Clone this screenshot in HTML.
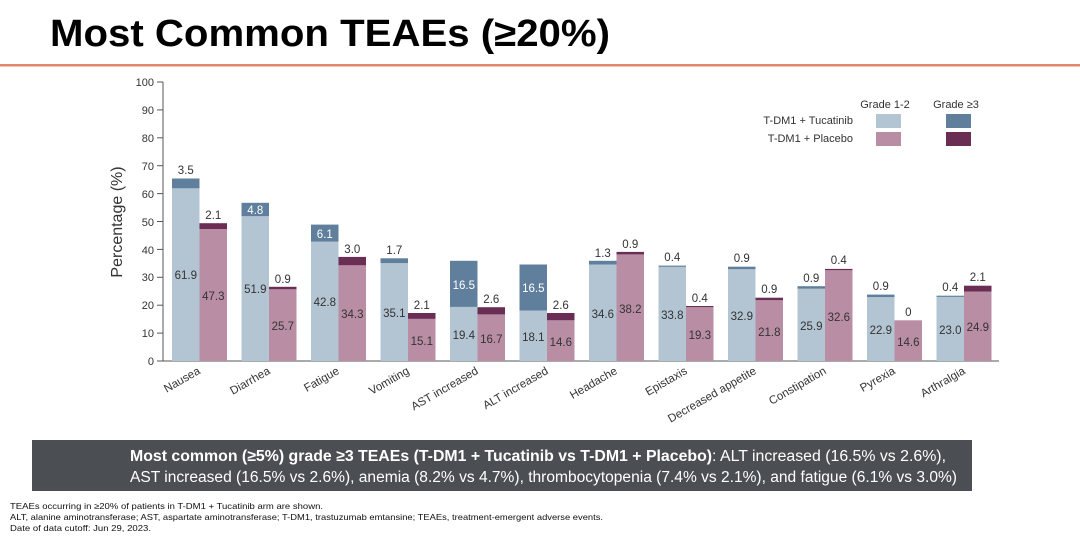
<!DOCTYPE html>
<html><head><meta charset="utf-8"><style>
body{margin:0;width:1080px;height:536px;background:#fff;overflow:hidden;font-family:"Liberation Sans",sans-serif;}
</style></head><body>
<svg width="1080" height="536" xmlns="http://www.w3.org/2000/svg" font-family="Liberation Sans, sans-serif">
<text x="50" y="46" font-size="38" font-weight="bold" fill="#000" textLength="560" lengthAdjust="spacingAndGlyphs">Most Common TEAEs (≥20%)</text>
<rect x="0" y="64" width="1080" height="2.5" fill="#e3876a"/>
<g stroke="#555" stroke-width="1">
<line x1="163" y1="82" x2="163" y2="361"/>
<line x1="163" y1="361" x2="999" y2="361"/>
<line x1="157" y1="82.0" x2="163" y2="82.0"/><line x1="157" y1="109.9" x2="163" y2="109.9"/><line x1="157" y1="137.8" x2="163" y2="137.8"/><line x1="157" y1="165.7" x2="163" y2="165.7"/><line x1="157" y1="193.6" x2="163" y2="193.6"/><line x1="157" y1="221.5" x2="163" y2="221.5"/><line x1="157" y1="249.4" x2="163" y2="249.4"/><line x1="157" y1="277.3" x2="163" y2="277.3"/><line x1="157" y1="305.2" x2="163" y2="305.2"/><line x1="157" y1="333.1" x2="163" y2="333.1"/><line x1="157" y1="361" x2="163" y2="361"/>
</g>
<g font-size="11" fill="#333" text-anchor="end">
<text x="154" y="86">100</text><text x="154" y="114">90</text><text x="154" y="142">80</text><text x="154" y="170">70</text><text x="154" y="198">60</text><text x="154" y="226">50</text><text x="154" y="254">40</text><text x="154" y="281">30</text><text x="154" y="309">20</text><text x="154" y="337">10</text><text x="154" y="365">0</text>
</g>
<text transform="translate(122,222) rotate(-90)" font-size="16" fill="#333" text-anchor="middle">Percentage (%)</text>
<g>
<rect x="172" y="188.3" width="27.5" height="172.7" fill="#b3c4d3"/><rect x="172" y="178.5" width="27.5" height="9.8" fill="#5f7f9c"/>
<rect x="199.5" y="229" width="27.5" height="132" fill="#b98ea5"/><rect x="199.5" y="223.2" width="27.5" height="5.8" fill="#6a2e55"/>
<rect x="241.5" y="216.2" width="27.5" height="144.8" fill="#b3c4d3"/><rect x="241.5" y="202.8" width="27.5" height="13.4" fill="#5f7f9c"/>
<rect x="269" y="289.3" width="27.5" height="71.7" fill="#b98ea5"/><rect x="269" y="286.8" width="27.5" height="2.5" fill="#6a2e55"/>
<rect x="311" y="241.6" width="27.5" height="119.4" fill="#b3c4d3"/><rect x="311" y="224.6" width="27.5" height="17" fill="#5f7f9c"/>
<rect x="338.5" y="265.3" width="27.5" height="95.7" fill="#b98ea5"/><rect x="338.5" y="256.9" width="27.5" height="8.4" fill="#6a2e55"/>
<rect x="380.5" y="263.1" width="27.5" height="97.9" fill="#b3c4d3"/><rect x="380.5" y="258.3" width="27.5" height="4.8" fill="#5f7f9c"/>
<rect x="408" y="318.9" width="27.5" height="42.1" fill="#b98ea5"/><rect x="408" y="313" width="27.5" height="5.9" fill="#6a2e55"/>
<rect x="450" y="306.9" width="27.5" height="54.1" fill="#b3c4d3"/><rect x="450" y="260.8" width="27.5" height="46.1" fill="#5f7f9c"/>
<rect x="477.5" y="314.4" width="27.5" height="46.6" fill="#b98ea5"/><rect x="477.5" y="307.2" width="27.5" height="7.2" fill="#6a2e55"/>
<rect x="519.5" y="310.5" width="27.5" height="50.5" fill="#b3c4d3"/><rect x="519.5" y="264.5" width="27.5" height="46" fill="#5f7f9c"/>
<rect x="547" y="320.3" width="27.5" height="40.7" fill="#b98ea5"/><rect x="547" y="313" width="27.5" height="7.3" fill="#6a2e55"/>
<rect x="589" y="264.5" width="27.5" height="96.5" fill="#b3c4d3"/><rect x="589" y="260.8" width="27.5" height="3.7" fill="#5f7f9c"/>
<rect x="616.5" y="254.4" width="27.5" height="106.6" fill="#b98ea5"/><rect x="616.5" y="251.9" width="27.5" height="2.5" fill="#6a2e55"/>
<rect x="658.5" y="266.7" width="27.5" height="94.3" fill="#b3c4d3"/><rect x="658.5" y="265.6" width="27.5" height="1.2" fill="#5f7f9c"/>
<rect x="686" y="307.2" width="27.5" height="53.8" fill="#b98ea5"/><rect x="686" y="306" width="27.5" height="1.2" fill="#6a2e55"/>
<rect x="728" y="269.2" width="27.5" height="91.8" fill="#b3c4d3"/><rect x="728" y="266.7" width="27.5" height="2.5" fill="#5f7f9c"/>
<rect x="755.5" y="300.2" width="27.5" height="60.8" fill="#b98ea5"/><rect x="755.5" y="297.7" width="27.5" height="2.5" fill="#6a2e55"/>
<rect x="797.5" y="288.7" width="27.5" height="72.3" fill="#b3c4d3"/><rect x="797.5" y="286.2" width="27.5" height="2.5" fill="#5f7f9c"/>
<rect x="825" y="270" width="27.5" height="91" fill="#b98ea5"/><rect x="825" y="268.9" width="27.5" height="1.2" fill="#6a2e55"/>
<rect x="867" y="297.1" width="27.5" height="63.9" fill="#b3c4d3"/><rect x="867" y="294.6" width="27.5" height="2.5" fill="#5f7f9c"/>
<rect x="894.5" y="320.3" width="27.5" height="40.7" fill="#b98ea5"/>
<rect x="936.5" y="296.8" width="27.5" height="64.2" fill="#b3c4d3"/><rect x="936.5" y="295.7" width="27.5" height="1.2" fill="#5f7f9c"/>
<rect x="964" y="291.5" width="27.5" height="69.5" fill="#b98ea5"/><rect x="964" y="285.7" width="27.5" height="5.8" fill="#6a2e55"/>
</g>
<g font-size="11.5" fill="#333" text-anchor="middle">
<text x="185.8" y="174">3.5</text><text x="185.8" y="279">61.9</text><text x="213.3" y="219">2.1</text><text x="213.3" y="300">47.3</text>
<text x="255.3" y="293">51.9</text><text x="282.8" y="283">0.9</text><text x="282.8" y="330">25.7</text>
<text x="324.8" y="306">42.8</text><text x="352.3" y="253">3.0</text><text x="352.3" y="318">34.3</text>
<text x="394.3" y="254">1.7</text><text x="394.3" y="317">35.1</text><text x="421.8" y="309">2.1</text><text x="421.8" y="345">15.1</text>
<text x="463.8" y="339">19.4</text><text x="491.3" y="303">2.6</text><text x="491.3" y="343">16.7</text>
<text x="533.3" y="341">18.1</text><text x="560.8" y="309">2.6</text><text x="560.8" y="346">14.6</text>
<text x="602.8" y="257">1.3</text><text x="602.8" y="318">34.6</text><text x="630.3" y="248">0.9</text><text x="630.3" y="313">38.2</text>
<text x="672.3" y="261">0.4</text><text x="672.3" y="319">33.8</text><text x="699.8" y="302">0.4</text><text x="699.8" y="339">19.3</text>
<text x="741.8" y="262">0.9</text><text x="741.8" y="320">32.9</text><text x="769.3" y="293">0.9</text><text x="769.3" y="336">21.8</text>
<text x="811.3" y="282">0.9</text><text x="811.3" y="330">25.9</text><text x="838.8" y="264">0.4</text><text x="838.8" y="321">32.6</text>
<text x="880.8" y="290">0.9</text><text x="880.8" y="334">22.9</text><text x="908.3" y="316">0</text><text x="908.3" y="346">14.6</text>
<text x="950.3" y="291">0.4</text><text x="950.3" y="334">23.0</text><text x="977.8" y="281">2.1</text><text x="977.8" y="331">24.9</text>
</g>
<g font-size="11.5" fill="#fff" text-anchor="middle">
<text x="255.3" y="214">4.8</text><text x="324.8" y="238">6.1</text><text x="463.8" y="289">16.5</text><text x="533.3" y="292">16.5</text>
</g>
<g font-size="11.5" fill="#333" text-anchor="end">
<text transform="translate(201,373) rotate(-30)">Nausea</text>
<text transform="translate(271,373) rotate(-30)">Diarrhea</text>
<text transform="translate(340,373) rotate(-30)">Fatigue</text>
<text transform="translate(410,373) rotate(-30)">Vomiting</text>
<text transform="translate(479,373) rotate(-30)">AST increased</text>
<text transform="translate(549,373) rotate(-30)">ALT increased</text>
<text transform="translate(618,373) rotate(-30)">Headache</text>
<text transform="translate(688,373) rotate(-30)">Epistaxis</text>
<text transform="translate(757,373) rotate(-30)">Decreased appetite</text>
<text transform="translate(827,373) rotate(-30)">Constipation</text>
<text transform="translate(896,373) rotate(-30)">Pyrexia</text>
<text transform="translate(966,373) rotate(-30)">Arthralgia</text>
</g>
<g font-size="11" fill="#333">
<text x="885" y="108" text-anchor="middle">Grade 1-2</text>
<text x="956" y="108" text-anchor="middle">Grade ≥3</text>
<text x="853" y="124" text-anchor="end">T-DM1 + Tucatinib</text>
<text x="853" y="142" text-anchor="end">T-DM1 + Placebo</text>
</g>
<rect x="876" y="114" width="25" height="14" fill="#b3c4d3"/>
<rect x="946" y="114" width="25" height="14" fill="#5f7f9c"/>
<rect x="876" y="132" width="25" height="14" fill="#b98ea5"/>
<rect x="946" y="132" width="25" height="14" fill="#6a2e55"/>
<rect x="32" y="440" width="940" height="51" fill="#4b4f54"/>
<g font-size="15.5" fill="#fff">
<text x="130" y="461" textLength="816" lengthAdjust="spacingAndGlyphs"><tspan font-weight="bold">Most common (≥5%) grade ≥3 TEAEs (T-DM1 + Tucatinib vs T-DM1 + Placebo)</tspan>: ALT increased (16.5% vs 2.6%),</text>
<text x="130" y="482" textLength="827" lengthAdjust="spacingAndGlyphs">AST increased (16.5% vs 2.6%), anemia (8.2% vs 4.7%), thrombocytopenia (7.4% vs 2.1%), and fatigue (6.1% vs 3.0%)</text>
</g>
<g font-size="8.5" fill="#111">
<text x="10" y="509" textLength="313" lengthAdjust="spacingAndGlyphs">TEAEs occurring in ≥20% of patients in T-DM1 + Tucatinib arm are shown.</text>
<text x="10" y="520" textLength="593" lengthAdjust="spacingAndGlyphs">ALT, alanine aminotransferase; AST, aspartate aminotransferase; T-DM1, trastuzumab emtansine; TEAEs, treatment-emergent adverse events.</text>
<text x="10" y="531" textLength="141" lengthAdjust="spacingAndGlyphs">Date of data cutoff: Jun 29, 2023.</text>
</g>
</svg>
</body></html>
